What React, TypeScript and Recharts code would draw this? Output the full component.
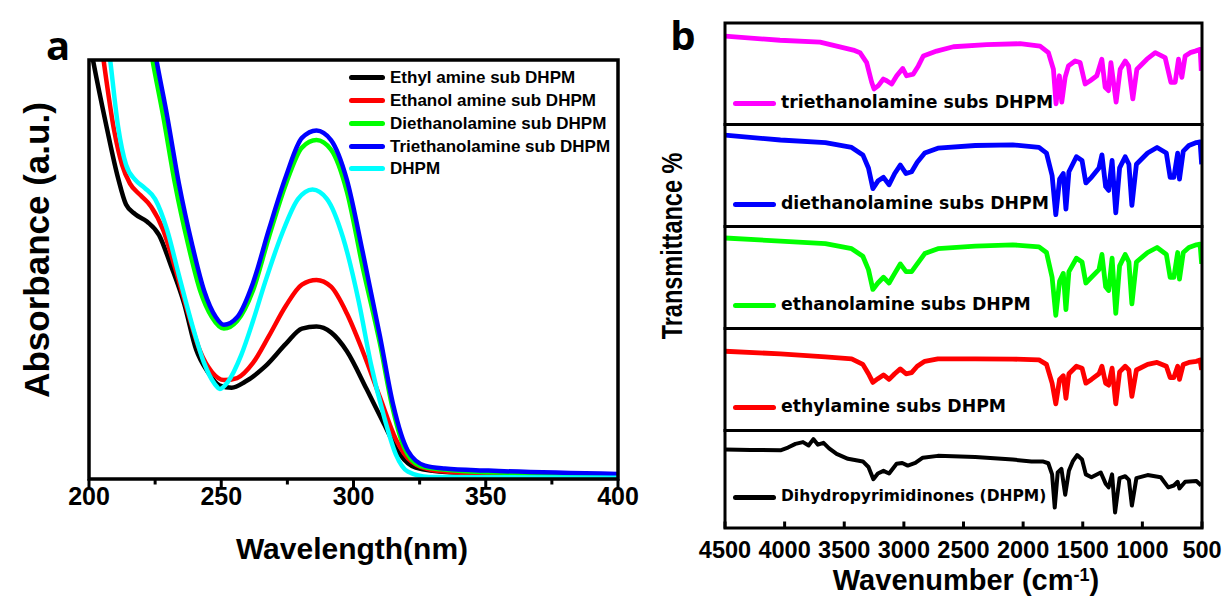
import React from 'react';
import { LineChart, Line, XAxis, YAxis, Legend } from 'recharts';

// ---------- Panel a : UV-vis ----------
const uvNames = [
  'Ethyl amine sub DHPM',
  'Ethanol amine sub DHPM',
  'Diethanolamine sub DHPM',
  'Triethanolamine sub DHPM',
  'DHPM',
];
const uvColors = ['#000000', '#ff0000', '#00ff00', '#0000ff', '#00ffff'];

const ethylAmineNm = [200, 201.5, 206.5, 211, 214, 217.5, 222, 226.5, 231, 236, 240.5, 245, 249.5, 254, 259, 266.5, 274.5, 280.5, 286, 291.5, 297.5, 305, 311.5, 317.5, 323.5, 336, 367, 400];
const ethylAmineAbs = [1.05, 1.0, 0.845, 0.718, 0.655, 0.632, 0.614, 0.582, 0.509, 0.418, 0.309, 0.255, 0.223, 0.218, 0.232, 0.268, 0.323, 0.359, 0.364, 0.35, 0.305, 0.214, 0.132, 0.059, 0.027, 0.016, 0.011, 0.008];

const ethanolAmineNm = [203, 205.5, 209.5, 212.5, 215.5, 219.5, 223.5, 228, 232.5, 237.5, 242, 246.5, 251, 256, 262, 268, 274.5, 280.5, 286, 291.5, 297.5, 303.5, 310, 316, 322, 330, 351, 400];
const ethanolAmineAbs = [1.12, 1.0, 0.832, 0.75, 0.705, 0.677, 0.65, 0.595, 0.505, 0.395, 0.305, 0.255, 0.236, 0.241, 0.277, 0.341, 0.414, 0.464, 0.475, 0.459, 0.395, 0.305, 0.195, 0.095, 0.041, 0.021, 0.012, 0.006];

const diethanolNm = [221, 224, 228, 232.5, 237.5, 242, 246.5, 251, 256, 262, 268, 274.5, 280.5, 286, 291.5, 297.5, 303.5, 310, 314.5, 319, 325, 333, 351, 400];
const diethanolAbs = [1.11, 1.0, 0.868, 0.705, 0.559, 0.45, 0.386, 0.359, 0.377, 0.45, 0.577, 0.705, 0.791, 0.809, 0.786, 0.686, 0.505, 0.323, 0.177, 0.077, 0.032, 0.023, 0.016, 0.01];

const triethanolNm = [222.5, 225.5, 229.5, 234, 239, 243.5, 248, 251, 256, 262, 268, 274.5, 280.5, 286, 291.5, 297.5, 303.5, 310, 315, 320.5, 327, 334.5, 351, 400];
const triethanolAbs = [1.11, 1.0, 0.868, 0.705, 0.559, 0.45, 0.386, 0.368, 0.386, 0.468, 0.595, 0.723, 0.814, 0.832, 0.809, 0.714, 0.541, 0.341, 0.177, 0.068, 0.032, 0.025, 0.02, 0.012];

const dhpmNm = [206, 208, 211, 214, 217.5, 221, 225, 229.5, 234, 239, 243.5, 247.5, 249.5, 252.5, 257.5, 262, 266.5, 273, 279, 284.5, 290, 296, 302, 306.5, 311.5, 316, 320.5, 328.5, 400];
const dhpmAbs = [1.1, 1.0, 0.841, 0.75, 0.714, 0.695, 0.668, 0.595, 0.486, 0.368, 0.277, 0.227, 0.215, 0.232, 0.295, 0.377, 0.468, 0.586, 0.668, 0.691, 0.668, 0.577, 0.423, 0.277, 0.15, 0.059, 0.018, 0.005, 0.003];

const uvMajorTicks = [200, 250, 300, 350, 400];
const uvMinorTicks = [225, 275, 325, 375];

// ---------- Panel b : FT-IR ----------
const irNames = [
  'triethanolamine subs DHPM',
  'diethanolamine subs DHPM',
  'ethanolamine subs DHPM',
  'ethylamine subs DHPM',
  'Dihydropyrimidinones (DHPM)',
];
const irColors = ['#ff00ff', '#0000ff', '#00ff00', '#ff0000', '#000000'];
const irTicks = [4500, 4000, 3500, 3000, 2500, 2000, 1500, 1000, 500];

const triethanolWn = [4500, 4039, 3703, 3424, 3368, 3312, 3270, 3250, 3214, 3172, 3144, 3102, 3060, 3010, 2977, 2921, 2879, 2837, 2725, 2585, 2306, 2026, 1858, 1788, 1746, 1724, 1696, 1676, 1648, 1620, 1564, 1522, 1480, 1438, 1382, 1340, 1312, 1284, 1264, 1220, 1186, 1144, 1116, 1080, 1046, 962, 892, 809, 761, 725, 697, 669, 641, 599, 557, 515, 506];
const triethanolT = [87, 83, 81.1, 73.3, 70.8, 61, 41.6, 35, 38.3, 44.8, 43.1, 39.9, 48, 55.2, 48, 49.7, 57.7, 67.5, 72.3, 76.6, 78.6, 79.6, 77.2, 70.8, 54.5, 20.4, 48, 22.1, 46.4, 57.7, 62.6, 61, 39.9, 43.1, 48, 64.3, 36.7, 33.4, 61, 22.1, 54.5, 62.6, 57.7, 25.3, 54.5, 64.3, 70.8, 65.9, 41.6, 41.6, 64.3, 46.4, 67.5, 70.8, 72.3, 74, 52.9];

const amineWn = [4500, 4035, 3658, 3438, 3344, 3297, 3260, 3218, 3171, 3124, 3077, 3030, 2982, 2935, 2888, 2825, 2715, 2401, 2087, 1867, 1804, 1757, 1726, 1694, 1663, 1641, 1616, 1553, 1506, 1474, 1427, 1364, 1339, 1308, 1283, 1254, 1223, 1191, 1144, 1113, 1088, 1050, 956, 877, 799, 767, 736, 704, 689, 657, 610, 547, 516, 503];
const diethanolT = [90.1, 85.3, 82.8, 78, 70.7, 57.9, 37.7, 45, 48.7, 41.4, 52.4, 60.8, 52.4, 54.2, 63.4, 72.5, 77.3, 79.9, 80.6, 78, 72.5, 50.5, 12.1, 46.9, 52.4, 17.6, 54.2, 68.9, 65.2, 43.2, 48.7, 57.9, 70.7, 39.6, 35.9, 65.2, 13.9, 57.9, 68.9, 61.5, 21.2, 61.5, 72.5, 78, 72.5, 48.7, 48.7, 72.5, 46.9, 74.4, 79.9, 82.8, 83.5, 61.5];
const ethanolT = [89.2, 86.2, 83.6, 78.7, 71.3, 58.2, 38.8, 45.1, 50.7, 45.1, 54.5, 63.8, 56.3, 56.3, 63.8, 73.9, 78.7, 81.3, 82.5, 80.6, 75, 50.7, 13.4, 47, 54.5, 19, 56.3, 69.4, 65.7, 45.1, 50.7, 58.2, 73.1, 41.4, 37.7, 69.4, 15.3, 61.9, 73.1, 65.7, 24.6, 65.7, 75, 79.9, 73.1, 50.7, 50.7, 75, 48.9, 75, 79.9, 82.5, 83.2, 63.8];
const ethylT = [78.2, 75.6, 72.7, 70.8, 65.3, 56.1, 47.6, 51.3, 55, 50.6, 56.1, 60.9, 56.1, 57.2, 63.5, 68.3, 70.8, 70.8, 70.5, 69.7, 65.3, 46.9, 26.6, 50.6, 54.2, 32.1, 56.1, 63.5, 61.6, 46.9, 50.6, 56.1, 63.5, 46.9, 45, 61.6, 26.6, 57.9, 63.5, 59.8, 33.9, 59.8, 65.3, 67.2, 63.5, 52.4, 52.4, 63.5, 50.6, 65.3, 67.2, 68.3, 69.7, 59.8];

const dhpmWn = [4500, 4286, 4035, 3972, 3909, 3846, 3799, 3759, 3721, 3674, 3627, 3564, 3469, 3344, 3297, 3256, 3218, 3171, 3124, 3061, 3014, 2967, 2904, 2841, 2715, 2401, 2087, 1930, 1836, 1789, 1757, 1735, 1710, 1679, 1647, 1616, 1584, 1547, 1506, 1474, 1427, 1349, 1308, 1283, 1254, 1229, 1191, 1144, 1113, 1088, 1050, 956, 846, 783, 736, 704, 689, 641, 547, 507];
const dhpmT = [81, 80.6, 80.2, 83, 86.8, 88.6, 85.2, 91.7, 86, 87.9, 82.2, 76.5, 71.5, 68.8, 63.1, 50.5, 56.4, 59.1, 56.4, 66.4, 67.2, 64.5, 67.2, 72.6, 74.5, 73.4, 70.7, 68.8, 68.8, 66.9, 55.5, 21.5, 57.4, 61.2, 34.6, 59.3, 68.8, 75.3, 70.7, 55.5, 52.5, 57.4, 46, 42.2, 55.5, 16.5, 51.7, 53.6, 49.8, 23.5, 51.7, 54.8, 52.5, 42.2, 44.1, 47.9, 41.1, 47.9, 48.7, 44.1];

// ---------- helpers ----------
const pts = (xs: number[], ys: number[]) => xs.map((x, i) => ({ x, y: ys[i] }));

const uvSeries = [
  pts(ethylAmineNm, ethylAmineAbs),
  pts(ethanolAmineNm, ethanolAmineAbs),
  pts(diethanolNm, diethanolAbs),
  pts(triethanolNm, triethanolAbs),
  pts(dhpmNm, dhpmAbs),
];

const irSeries = [
  pts(triethanolWn, triethanolT),
  pts(amineWn, diethanolT),
  pts(amineWn, ethanolT),
  pts(amineWn, ethylT),
  pts(dhpmWn, dhpmT),
];

const ARIAL = '"Liberation Sans", Arial, Helvetica, sans-serif';
const DEJAVU = '"DejaVu Sans", Verdana, sans-serif';

// frame layout (page pixels)
const uvFrame = { left: 89, top: 60, right: 618, bottom: 479 };
const irChartLeft = 670;
const irLeft = 725;
const irRight = 1202;
const irFrames = [
  { top: 23, bottom: 124.5, legendY: 103 },
  { top: 124.5, bottom: 226.5, legendY: 204 },
  { top: 226.5, bottom: 328.5, legendY: 305 },
  { top: 328.5, bottom: 430.5, legendY: 407 },
  { top: 430.5, bottom: 528, legendY: 497 },
];

const UvTick = (props: any) => {
  const { x, y, payload } = props;
  const v = payload.value;
  const major = uvMajorTicks.includes(v);
  return (
    <g>
      <line x1={x} x2={x} y1={y} y2={y + (major ? 9 : 5.5)} stroke="#000" strokeWidth={3} />
      {major && (
        <text x={x} y={y + 26} textAnchor="middle" fill="#000"
          style={{ fontFamily: ARIAL, fontWeight: 700, fontSize: 25 }}>{v}</text>
      )}
    </g>
  );
};

const IrTick = (props: any) => {
  const { x, y, payload } = props;
  return (
    <g>
      <line x1={x} x2={x} y1={y} y2={y - 7} stroke="#000" strokeWidth={3} />
      <text x={x} y={y + 29} textAnchor="middle" fill="#000"
        style={{ fontFamily: ARIAL, fontWeight: 700, fontSize: 23.5 }}>{payload.value}</text>
    </g>
  );
};

const UvLegendContent = (props: any) => {
  const items = [...(props.payload || [])].sort(
    (a: any, b: any) => uvNames.indexOf(a.value) - uvNames.indexOf(b.value)
  );
  return (
    <div>
      {items.map((e: any) => (
        <div key={e.value} style={{ display: 'flex', alignItems: 'center', height: 22.7 }}>
          <span style={{ display: 'inline-block', width: 36, height: 5, borderRadius: 3, background: e.color, marginRight: 5 }} />
          <span style={{ fontFamily: ARIAL, fontWeight: 700, fontSize: 17, color: '#000', whiteSpace: 'nowrap', lineHeight: 1 }}>{e.value}</span>
        </div>
      ))}
    </div>
  );
};

const makeIrLegend = (small: boolean) => (props: any) => {
  const items = props.payload || [];
  return (
    <div>
      {items.map((e: any) => (
        <div key={e.value} style={{ display: 'flex', alignItems: 'center', height: 22 }}>
          <span style={{ display: 'inline-block', width: 43, height: 5, borderRadius: 3, background: e.color, marginRight: 5 }} />
          <span style={{ fontFamily: DEJAVU, fontWeight: 700, fontSize: small ? 15.5 : 17.3, color: '#000', whiteSpace: 'nowrap', lineHeight: 1 }}>{e.value}</span>
        </div>
      ))}
    </div>
  );
};

export default function App() {
  return (
    <div style={{ position: 'absolute', left: 0, top: 0, width: 1226, height: 597, background: '#fff', overflow: 'hidden' }}>
      {/* Panel a */}
      <div style={{ position: 'absolute', left: 0, top: 0 }}>
        <LineChart width={640} height={597} margin={{ top: uvFrame.top, right: 640 - uvFrame.right, bottom: 0, left: uvFrame.left }}>
          <XAxis dataKey="x" type="number" domain={[200, 400]} allowDataOverflow
            ticks={[...uvMajorTicks, ...uvMinorTicks].sort((a, b) => a - b)} interval={0}
            height={597 - uvFrame.bottom} tickSize={0} tickMargin={0} axisLine={false} tickLine={false} tick={<UvTick />} />
          <YAxis hide domain={[0, 1]} allowDataOverflow />
          {uvSeries.map((d, i) => (
            <Line key={uvNames[i]} data={d} dataKey="y" name={uvNames[i]} stroke={uvColors[i]}
              strokeWidth={4.5} dot={false} activeDot={false} type="monotone" isAnimationActive={false} />
          ))}
          <Legend layout="vertical" align="center" verticalAlign="middle"
            wrapperStyle={{ left: 349, top: 66.6, width: 'auto', height: 'auto' }}
            content={<UvLegendContent />} />
        </LineChart>
      </div>

      {/* Panel b */}
      {irFrames.map((f, i) => {
        const last = i === irFrames.length - 1;
        const pad = 10;
        const top = f.top - pad;
        const height = last ? 597 - top : f.bottom - f.top + 2 * pad;
        const chartWidth = 1226 - irChartLeft;
        const LegendContent = makeIrLegend(last);
        return (
          <div key={irNames[i]} style={{ position: 'absolute', left: irChartLeft, top }}>
            <LineChart width={chartWidth} height={height} margin={{ top: pad, right: 1226 - irRight, bottom: last ? 0 : pad, left: irLeft - irChartLeft }}>
              <XAxis dataKey="x" type="number" domain={[500, 4500]} reversed allowDataOverflow
                ticks={irTicks} interval={0} hide={!last} height={last ? 597 - f.bottom : 0}
                tickSize={0} tickMargin={0} axisLine={false} tickLine={false} tick={<IrTick />} />
              <YAxis hide domain={[0, 100]} />
              <Line data={irSeries[i]} dataKey="y" name={irNames[i]} stroke={irColors[i]}
                strokeWidth={last ? 4 : 4.8} strokeLinejoin="round" dot={false} activeDot={false}
                type="linear" isAnimationActive={false} />
              <Legend layout="vertical" align="center" verticalAlign="middle"
                wrapperStyle={{ left: 733 - irChartLeft, top: f.legendY - top - 11, width: 'auto', height: 'auto' }}
                content={<LegendContent />} />
            </LineChart>
          </div>
        );
      })}

      {/* Frames, titles and panel letters */}
      <svg width={1226} height={597} style={{ position: 'absolute', left: 0, top: 0, pointerEvents: 'none' }}>
        <rect x={uvFrame.left} y={uvFrame.top} width={uvFrame.right - uvFrame.left} height={uvFrame.bottom - uvFrame.top}
          fill="none" stroke="#000" strokeWidth={3.5} />
        {irFrames.map((f, i) => (
          <rect key={i} x={irLeft} y={f.top} width={irRight - irLeft} height={f.bottom - f.top}
            fill="none" stroke="#000" strokeWidth={3} />
        ))}
        <text x={58} y={60} textAnchor="middle" style={{ fontFamily: '"Open Sans", sans-serif', fontWeight: 700, fontSize: 40 }}>a</text>
        <text x={683} y={50} textAnchor="middle" style={{ fontFamily: '"Open Sans", sans-serif', fontWeight: 700, fontSize: 40 }}>b</text>
        <text transform="translate(49,250) rotate(-90)" textAnchor="middle"
          style={{ fontFamily: ARIAL, fontWeight: 700, fontSize: 35 }}>Absorbance (a.u.)</text>
        <text x={352} y={559} textAnchor="middle"
          style={{ fontFamily: ARIAL, fontWeight: 700, fontSize: 30 }}>Wavelength(nm)</text>
        <text transform="translate(682,246) rotate(-90) scale(1,1.25)" textAnchor="middle"
          style={{ fontFamily: ARIAL, fontWeight: 700, fontSize: 23.5 }}>Transmittance %</text>
        <text x={966} y={590} textAnchor="middle"
          style={{ fontFamily: ARIAL, fontWeight: 700, fontSize: 29 }}>
          Wavenumber (cm<tspan dy={-9} style={{ fontSize: 18 }}>-1</tspan><tspan dy={9}>)</tspan>
        </text>
      </svg>
    </div>
  );
}
